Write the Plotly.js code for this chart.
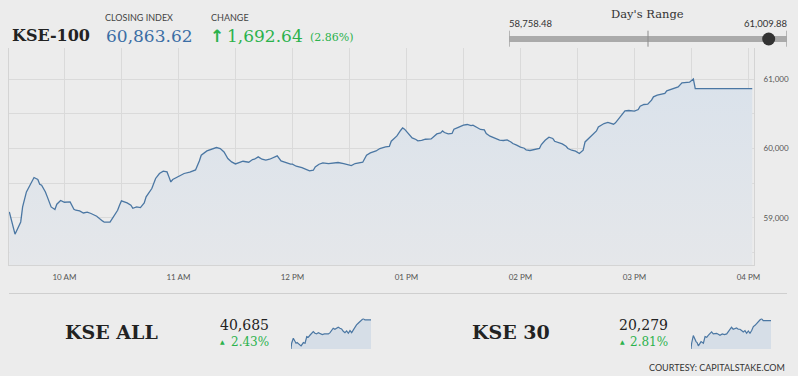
<!DOCTYPE html>
<html><head><meta charset="utf-8">
<script src="https://cdn.plot.ly/plotly-3.0.1.min.js"></script>
<style>html,body{margin:0;padding:0;background:#ececec;}#chart{width:798px;height:376px;}</style>
</head><body><div id="chart"></div>
<script>
// ---------- DATA ----------
const indexName = 'KSE-100';
const closingIndex = 60863.62;
const changePts = 1692.64;
const changePct = 2.86;
const dayLow = 58758.48;
const dayHigh = 61009.88;

const mainTimes = ['09:31','09:34','09:37','09:38','09:40','09:42','09:44','09:46','09:47','09:48','09:50','09:51','09:53','09:55','09:56','09:58',
'10:00','10:03','10:05','10:06','10:08','10:10','10:12','10:14','10:17','10:20','10:21','10:24','10:26','10:28','10:29','10:30','10:33','10:35','10:36','10:38','10:40','10:42','10:43','10:45','10:46','10:48','10:50','10:52','10:54','10:55','10:56','10:57','10:59',
'11:01','11:03','11:06','11:09','11:11','11:12','11:15','11:18','11:20','11:22','11:24','11:26','11:28','11:30','11:32','11:34','11:37','11:39','11:40','11:42','11:44','11:46','11:48','11:50','11:52','11:54','11:56','11:59',
'12:00','12:02','12:05','12:07','12:09','12:11','12:12','12:14','12:16','12:19','12:21','12:24','12:27','12:29','12:31','12:33','12:36','12:37','12:39','12:41','12:44','12:46','12:49','12:51','12:52','12:55','12:57','12:58','12:59',
'13:01','13:03','13:05','13:06','13:08','13:10','13:13','13:14','13:16','13:18','13:19','13:20','13:22','13:24','13:25','13:27','13:30','13:32','13:34','13:35','13:37','13:39','13:41','13:42','13:44','13:46','13:48','13:49','13:51','13:53','13:55','13:56','13:58',
'14:00','14:02','14:03','14:05','14:08','14:10','14:11','14:13','14:15','14:17','14:18','14:20','14:22','14:24','14:25','14:27','14:29','14:31','14:32','14:33','14:34','14:36','14:38','14:40','14:41','14:44','14:46','14:47','14:49','14:50','14:52','14:54','14:55','14:57',
'15:00','15:02','15:03','15:05','15:07','15:09','15:10','15:12','15:14','15:16','15:17','15:19','15:21','15:23','15:25','15:27','15:29','15:31','15:32','16:02'];
const mainValues = [59084,58762,58939,59156,59373,59470,59581,59552,59484,59470,59373,59301,59156,59119,59195,59249,
59224,59228,59123,59108,59098,59069,59080,59061,59022,58954,58935,58935,59022,59108,59181,59243,59214,59181,59137,59156,59147,59214,59301,59387,59422,59567,59639,59672,59662,59590,59517,59552,59581,
59600,59639,59658,59690,59821,59903,59965,59990,60014,60000,59951,59856,59806,59777,59798,59816,59802,59841,59845,59879,59845,59831,59845,59864,59893,59821,59798,59773,
59773,59744,59725,59701,59676,59686,59734,59773,59792,59783,59788,59798,59783,59773,59754,59783,59792,59802,59903,59936,59965,60000,60023,60030,60105,60182,60264,60298,60279,
60217,60153,60130,60110,60116,60134,60139,60168,60211,60225,60254,60231,60211,60217,60279,60303,60337,60347,60332,60337,60303,60275,60269,60217,60178,60153,60124,60120,60116,60124,60095,60072,60048,
60019,60004,59980,59971,59986,60000,60058,60120,60163,60145,60105,60087,60066,60033,60000,59975,59961,59928,59957,59975,60095,60145,60202,60254,60312,60361,60376,60370,60351,60370,60434,60506,60543,60549,
60539,60564,60611,60636,60640,60698,60746,60770,60785,60795,60832,60853,60867,60890,60948,60948,60958,61005,60864,60864];

const hourTicks = ['10:00','10:30','11:00','11:30','12:00','12:30','13:00','13:30','14:00','14:30','15:00','15:30','16:00'];
const hourLabels = ['10 AM','','11 AM','','12 PM','','01 PM','','02 PM','','03 PM','','04 PM'];
const yTickVals = [58500,59000,59500,60000,60500,61000];
const yTickText = ['','59,000','','60,000','','61,000'];

const subNames = ['KSE ALL','KSE 30'];
const subValues = [40685, 20279];
const subPct = [2.43, 2.81];
const sparkMinutes = [0,3,11,19,24,29,35,48,59,67,75,82,90,98,106,114,122,130,138,149,159,170,178,186,193,201,209,217,225,233,241,249,257,265,273,281,289,297,305,312,320,328,336,344,352,360,381];
const kseAllSpark = [39720,39909,40075,39964,39909,39931,39886,39820,39931,39909,40130,40108,40175,40241,40297,40241,40219,40263,40241,40197,40219,40208,40219,40263,40330,40408,40374,40419,40441,40408,40385,40308,40263,40319,40241,40330,40263,40352,40463,40518,40574,40629,40685,40729,40685,40685,40685];
const kse30Spark = [19725,19836,19986,19888,19868,19849,19784,19868,19836,19966,19953,19992,20031,20058,20018,20031,20031,20012,19992,20018,20005,20018,20058,20097,20149,20110,20129,20136,20110,20110,20084,20058,20084,20031,20077,20031,20084,20162,20188,20227,20253,20292,20318,20279,20279,20279,20279];
const credit = 'COURTESY: CAPITALSTAKE.COM';

// ---------- HELPERS ----------
const W = 798, H = 376;
const px = v => v / W;
const py = v => 1 - v / H;
const day = t => '2024-01-01 ' + t;
const fmt = (v, d) => v.toLocaleString('en-US', {minimumFractionDigits: d, maximumFractionDigits: d});

const LINE = '#4b77a3';
const GREEN = '#2bb24c';
const SERIF = 'DejaVu Serif, serif';
const SANS = 'Lato, sans-serif';

function ann(text, x, y, xanchor, font, extra) {
  return Object.assign({text: text, x: px(x), y: py(y), xref: 'paper', yref: 'paper',
    xanchor: xanchor, yanchor: 'middle', showarrow: false, font: font}, extra || {});
}

// ---------- TRACES ----------
const traces = [
  {x: mainTimes.map(day), y: mainValues, type: 'scatter', mode: 'lines',
   line: {color: LINE, width: 1.3}, fill: 'tozeroy',
   fillgradient: {type: 'vertical', start: 58317, stop: 61000,
     colorscale: [[0, 'rgb(229,231,234)'], [1, 'rgb(218,226,235)']]},
   hoverinfo: 'skip', xaxis: 'x', yaxis: 'y'},
  {x: sparkMinutes, y: kseAllSpark, type: 'scatter', mode: 'lines',
   line: {color: LINE, width: 1.2}, fill: 'tozeroy', fillcolor: '#d6dee7',
   hoverinfo: 'skip', xaxis: 'x2', yaxis: 'y2'},
  {x: sparkMinutes, y: kse30Spark, type: 'scatter', mode: 'lines',
   line: {color: LINE, width: 1.2}, fill: 'tozeroy', fillcolor: '#d6dee7',
   hoverinfo: 'skip', xaxis: 'x3', yaxis: 'y3'},
  {x: [dayLow, dayHigh], y: [0, 0], type: 'scatter', mode: 'lines',
   line: {color: '#aaaaaa', width: 6}, hoverinfo: 'skip', xaxis: 'x4', yaxis: 'y4'},
  {x: [closingIndex], y: [0], type: 'scatter', mode: 'markers',
   marker: {color: '#333333', size: 13}, cliponaxis: false, hoverinfo: 'skip', xaxis: 'x4', yaxis: 'y4'}
];

const midRange = (dayLow + dayHigh) / 2;
const shapes = [dayLow, midRange, dayHigh].map(v => ({type: 'line', xref: 'x4', yref: 'paper',
  x0: v, x1: v, y0: py(46.7), y1: py(30.7), line: {color: '#8c8c8c', width: 1}}));
shapes.push({type: 'line', xref: 'paper', yref: 'paper', x0: px(9), x1: px(787), y0: py(293.5), y1: py(293.5),
  line: {color: '#cfcfcf', width: 1.2}});

const annotations = [
  ann('<b>' + indexName + '</b>', 10, 35.5, 'left', {family: SERIF, size: 16, color: '#222'}),
  ann('CLOSING INDEX', 103, 18, 'left', {family: SANS, size: 9, color: '#444'}),
  ann(fmt(closingIndex, 2), 104, 36, 'left', {family: SERIF, size: 17, color: '#3b6ea5'}),
  ann('CHANGE', 209, 18, 'left', {family: SANS, size: 9, color: '#444'}),
  ann('<b>↑</b>', 208, 35.5, 'left', {family: 'DejaVu Sans, sans-serif', size: 17, color: GREEN}),
  ann(fmt(changePts, 2), 225, 36, 'left', {family: SERIF, size: 17, color: GREEN}),
  ann('(' + changePct.toFixed(2) + '%)', 308, 37.5, 'left', {family: SERIF, size: 11, color: GREEN}),
  ann("Day's Range", 647.5, 13.5, 'center', {family: SERIF, size: 11.5, color: '#333'}),
  {text: fmt(dayLow, 2), x: dayLow, xref: 'x4', y: py(23.5), yref: 'paper', xanchor: 'left', yanchor: 'middle',
   showarrow: false, font: {family: SANS, size: 9.5, color: '#333'}, xshift: -2},
  {text: fmt(dayHigh, 2), x: dayHigh, xref: 'x4', y: py(23.5), yref: 'paper', xanchor: 'right', yanchor: 'middle',
   showarrow: false, font: {family: SANS, size: 9.5, color: '#333'}, xshift: 2},
  ann(credit, 787, 367, 'right', {family: SANS, size: 9, color: '#333'})
];
const subX = [{name: 63, val: 271, tri: 222}, {name: 470, val: 670, tri: 622}];
subNames.forEach((n, i) => {
  annotations.push(ann('<b>' + n + '</b>', subX[i].name, 332, 'left', {family: SERIF, size: 19, color: '#222'}));
  annotations.push(ann(fmt(subValues[i], 0), subX[i].val, 325, 'right', {family: SERIF, size: 14, color: '#222'}));
  annotations.push(ann('▲', subX[i].tri, 341.5, 'center', {family: 'DejaVu Sans, sans-serif', size: 6, color: GREEN}));
  annotations.push(ann(subPct[i].toFixed(2) + '%', subX[i].val, 342, 'right', {family: SERIF, size: 12, color: GREEN}));
});

const hidden = {visible: false, fixedrange: true};
const sparkDomY = [py(349), py(318.5)];
const layout = {
  width: W, height: H, margin: {l: 0, r: 0, t: 0, b: 0},
  paper_bgcolor: '#ececec', plot_bgcolor: 'rgba(0,0,0,0)', showlegend: false,
  xaxis: {type: 'date', domain: [px(9), px(754)], range: [day('09:30:50'), day('16:02:55')],
    tickmode: 'array', tickvals: hourTicks.map(day), ticktext: hourLabels,
    showgrid: true, gridcolor: '#dadada', gridwidth: 1, zeroline: false,
    showline: true, linecolor: '#d4d4d4', linewidth: 1, ticks: '', ticklabelstandoff: 4,
    tickfont: {family: SANS, size: 8, color: '#555'}, anchor: 'y'},
  yaxis: {domain: [py(265), py(48)], range: [58317, 61452], side: 'right',
    tickmode: 'array', tickvals: yTickVals, ticktext: yTickText,
    showgrid: true, gridcolor: '#dadada', zeroline: false,
    showline: true, mirror: true, linecolor: '#d4d4d4', ticks: '', ticklabelstandoff: 7,
    tickfont: {family: SANS, size: 8, color: '#555'}, anchor: 'x'},
  xaxis2: Object.assign({domain: [px(291), px(371)], range: [0, 381], anchor: 'y2'}, hidden),
  yaxis2: Object.assign({domain: sparkDomY, range: [39718, 40732], anchor: 'x2'}, hidden),
  xaxis3: Object.assign({domain: [px(691), px(771)], range: [0, 381], anchor: 'y3'}, hidden),
  yaxis3: Object.assign({domain: sparkDomY, range: [19723, 20321], anchor: 'x3'}, hidden),
  xaxis4: Object.assign({domain: [px(509.3), px(786.7)], range: [dayLow, dayHigh], anchor: 'y4'}, hidden),
  yaxis4: Object.assign({domain: [py(46), py(32)], range: [-1, 1], anchor: 'x4'}, hidden),
  shapes: shapes, annotations: annotations
};
Plotly.newPlot('chart', traces, layout, {displayModeBar: false, staticPlot: true});
</script></body></html>
